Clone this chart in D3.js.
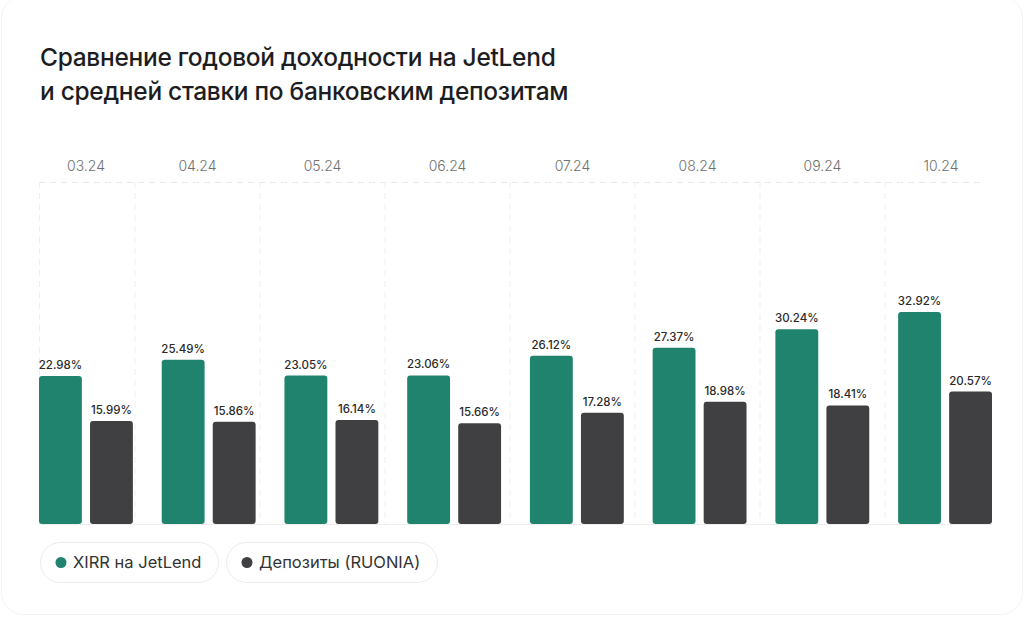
<!DOCTYPE html>
<html>
<head>
<meta charset="utf-8">
<script src="https://cdn.jsdelivr.net/npm/d3@7/dist/d3.min.js"></script>
<style>
  html, body { margin: 0; padding: 0; background: #ffffff; }
  svg { display: block; }
</style>
</head>
<body>
<svg id="chart" width="1024" height="617"></svg>
<script>
const months = ["03.24", "04.24", "05.24", "06.24", "07.24", "08.24", "09.24", "10.24"];
const xirrValues = [22.98, 25.49, 23.05, 23.06, 26.12, 27.37, 30.24, 32.92];
const depositValues = [15.99, 15.86, 16.14, 15.66, 17.28, 18.98, 18.41, 20.57];
const seriesNames = ["XIRR на JetLend", "Депозиты (RUONIA)"];
const titleLines = ["Сравнение годовой доходности на JetLend", "и средней ставки по банковским депозитам"];

const colors = ["#20836e", "#404042"];
const svg = d3.select("#chart");

// card
svg.append("rect")
  .attr("x", 1.5).attr("y", -4).attr("width", 1021).attr("height", 618.5)
  .attr("rx", 22).attr("fill", "#ffffff").attr("stroke", "#f3f3f3").attr("stroke-width", 1);

// title
svg.append("g").selectAll("text").data(titleLines).join("text")
  .attr("x", 40).attr("y", (d, i) => 66 + i * 34)
  .attr("font-family", "Inter, 'Noto Sans', sans-serif")
  .attr("font-weight", 500).attr("font-size", 24.5).attr("fill", "#1d1d1f")
  .attr("letter-spacing", "-0.3")
  .text(d => d);

const plotTop = 182, plotBottom = 524;
const y = d3.scaleLinear().domain([0, 53.1]).range([plotBottom, plotTop]);

// column grid scale
const xGrid = d3.scaleBand().domain(months).range([10, 1010]);
const grid = svg.append("g");
grid.append("line")
  .attr("x1", 39).attr("x2", 984).attr("y1", plotTop + 0.5).attr("y2", plotTop + 0.5)
  .attr("stroke", "#e9e9e9").attr("stroke-dasharray", "6,5");
const vx = [39].concat(months.slice(1).map(m => xGrid(m) - 0.5));
grid.selectAll("line.v").data(vx).join("line").attr("class", "v")
  .attr("x1", d => d + 0.5).attr("x2", d => d + 0.5)
  .attr("y1", plotTop).attr("y2", plotBottom)
  .attr("stroke", "#efefef").attr("stroke-dasharray", "6,5");

// month labels
svg.append("g").selectAll("text").data(months).join("text")
  .attr("x", d => Math.max(86, Math.min(941, xGrid(d) + xGrid.bandwidth() / 2)))
  .attr("y", 171)
  .attr("text-anchor", "middle")
  .attr("font-family", "Inter, 'Open Sans', sans-serif")
  .attr("font-weight", 300).attr("font-size", 14).attr("fill", "#707070")
  .text(d => d);

// bars
const x0 = d3.scaleBand().domain(months).range([39, 992]).paddingInner(0.235);
const x1 = d3.scaleBand().domain(seriesNames).range([0, x0.bandwidth()]).paddingInner(0.16);

const data = months.map((m, i) => ({ month: m, values: [xirrValues[i], depositValues[i]] }));

// baseline
svg.append("line")
  .attr("x1", 39).attr("x2", 992).attr("y1", plotBottom + 0.5).attr("y2", plotBottom + 0.5)
  .attr("stroke", "#eeeeee");

const groups = svg.append("g").selectAll("g").data(data).join("g")
  .attr("transform", d => `translate(${x0(d.month)},0)`);

groups.selectAll("rect").data(d => d.values.map((v, j) => ({ name: seriesNames[j], v, j }))).join("rect")
  .attr("x", d => x1(d.name))
  .attr("y", d => y(d.v))
  .attr("width", x1.bandwidth())
  .attr("height", d => plotBottom - y(d.v))
  .attr("rx", 3)
  .attr("fill", d => colors[d.j]);

groups.selectAll("text").data(d => d.values.map((v, j) => ({ name: seriesNames[j], v, j }))).join("text")
  .attr("x", d => x1(d.name) + x1.bandwidth() / 2)
  .attr("y", d => y(d.v) - 7)
  .attr("text-anchor", "middle")
  .attr("font-family", "Inter, 'Open Sans', sans-serif")
  .attr("font-weight", 500).attr("font-size", 11.5).attr("fill", "#2a2a2a")
  .text(d => d.v.toFixed(2) + "%");

// legend
const legendItems = [{ x: 40, w: 178 }, { x: 226, w: 211 }];
const lg = svg.append("g").selectAll("g").data(seriesNames).join("g")
  .attr("transform", (d, i) => `translate(${legendItems[i].x},542)`);
lg.append("rect")
  .attr("x", 0.5).attr("y", 0.5)
  .attr("width", (d, i) => legendItems[i].w).attr("height", 40)
  .attr("rx", 20).attr("fill", "#fff").attr("stroke", "#ececec");
lg.append("circle").attr("cx", 21).attr("cy", 20.5).attr("r", 5.5)
  .attr("fill", (d, i) => colors[i]);
lg.append("text").attr("x", 33).attr("y", 26)
  .attr("font-family", "Inter, 'Noto Sans', sans-serif")
  .attr("font-size", 16.5).attr("fill", "#333")
  .text(d => d);
</script>
</body>
</html>
